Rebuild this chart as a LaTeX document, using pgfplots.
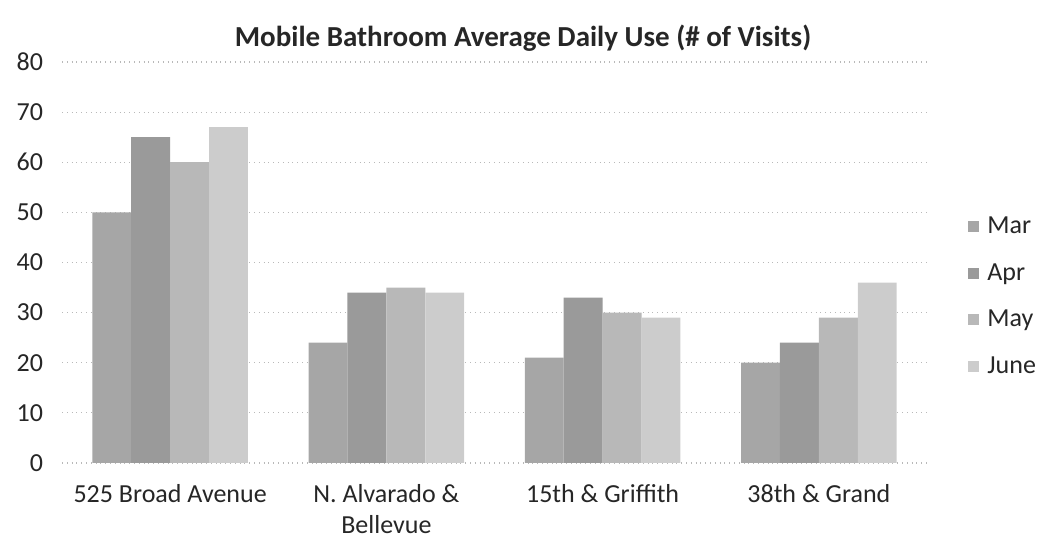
\documentclass[border=0pt]{standalone}
\usepackage{fontspec}
\setmainfont{Carlito}
\usepackage{pgfplots}
\pgfplotsset{compat=1.18}
\definecolor{cMar}{HTML}{A6A6A6}
\definecolor{cApr}{HTML}{9A9A9A}
\definecolor{cMay}{HTML}{B8B8B8}
\definecolor{cJun}{HTML}{CCCCCC}
\begin{document}
\begin{tikzpicture}
\begin{axis}[
  name=ax,
  scale only axis,
  width=432.5pt, height=200.5pt,
  ybar=0pt, bar width=0.18,
  xmin=-0.5, xmax=3.5,
  ymin=0, ymax=80,
  ytick={0,10,...,80},
  xtick={0,1,2,3},
  xticklabels={525 Broad Avenue, {N. Alvarado \&\\Bellevue}, 15th \& Griffith, 38th \& Grand},
  xticklabel style={align=center, yshift=-7pt, font=\fontsize{13}{15.5}\selectfont, text=black!85},
  yticklabel style={xshift=-6pt, font=\fontsize{13}{15}\selectfont, text=black!85},
  /pgf/number format/assume math mode=true,
  axis line style={draw=none},
  major tick length=0pt,
  ymajorgrids,
  grid style={gray!55, dotted, line width=0.6pt},
  title={\textbf{Mobile Bathroom Average Daily Use (\# of Visits)}},
  title style={at={(0.533,1)}, anchor=center, yshift=6pt, font=\fontsize{14.5}{17}\selectfont, text=black!85},
  legend style={draw=none, fill=none, at={(1,0.625)}, anchor=north west, xshift=20.5pt,
    inner sep=0pt, row sep=9.5pt, font=\fontsize{13}{15}\selectfont, text=black!85,
    /tikz/every even column/.append style={column sep=0pt}},
  legend cell align=left,
  legend image code/.code={\fill[#1] (0pt,-2.75pt) rectangle (5.5pt,2.75pt);},
  /tikz/every odd column/.append style={column sep=2pt},
]
\addplot[fill=cMar, draw=none] coordinates {(0,50) (1,24) (2,21) (3,20)};
\addplot[fill=cApr, draw=none] coordinates {(0,65) (1,34) (2,33) (3,24)};
\addplot[fill=cMay, draw=none] coordinates {(0,60) (1,35) (2,30) (3,29)};
\addplot[fill=cJun, draw=none] coordinates {(0,67) (1,34) (2,29) (3,36)};
\legend{Mar, Apr, May, June}
\end{axis}
\pgfresetboundingbox
\path ([shift={(-31pt,-38.5pt)}]ax.south west) rectangle ([shift={(56.5pt,31pt)}]ax.north east);
\end{tikzpicture}
\end{document}
